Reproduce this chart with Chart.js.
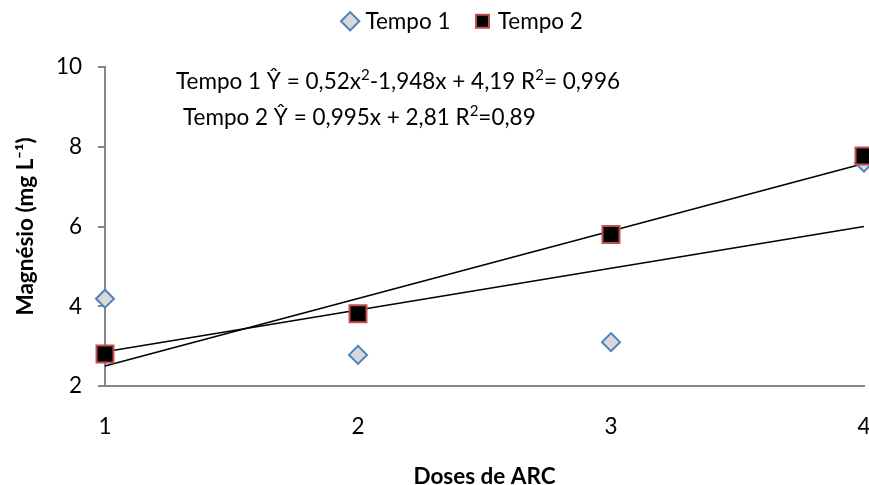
<!DOCTYPE html>
<html><head><meta charset="utf-8">
<script src="https://cdn.jsdelivr.net/npm/chart.js@4/dist/chart.umd.min.js"></script>
<style>html,body{margin:0;padding:0;background:#fff}#wrap{width:869px;height:485px}</style>
</head><body><div id="wrap"><canvas id="c" width="869" height="485"></canvas></div>
<script>
const doses = [1, 2, 3, 4];
const tempo1 = [4.19, 2.78, 3.1, 7.6];
const tempo2 = [2.8, 3.81, 5.8, 7.77];
const trendX = [1, 4];
const trendA = [2.5, 7.58];
const trendB = [2.86, 6.0];
const yTicks = [2, 4, 6, 8, 10];
const seriesNames = ['Tempo 1', 'Tempo 2'];
const eq1 = [['Tempo 1 Ŷ = 0,52x', 0], ['2', 1], ['-1,948x + 4,19 R', 0], ['2', 1], ['= 0,996', 0]];
const eq2 = [['Tempo 2 Ŷ = 0,995x + 2,81 R', 0], ['2', 1], ['=0,89', 0]];

const FONT = 'Lato';
const FS = 22.5;

const pts = (xs, ys) => xs.map((x, i) => ({x: x, y: ys[i]}));

const eqPlugin = {
  id: 'eq',
  beforeLayout(chart) {
    const lg = chart.legend;
    if (lg && !lg._patched) {
      const orig = lg.fit;
      lg.fit = function () { orig.call(this); this.height = 85; };
      const od = lg.draw;
      lg.draw = function (a) { this.ctx.save(); this.ctx.translate(30, 0); od.call(this, a); this.ctx.restore(); };
      lg._patched = true;
    }
  },
  afterDatasetsDraw(chart) {
    const ctx = chart.ctx;
    const drawLine = (segs, x, y) => {
      ctx.save();
      ctx.fillStyle = '#000';
      ctx.textBaseline = 'alphabetic';
      ctx.textAlign = 'left';
      segs.forEach(([t, sup]) => {
        ctx.font = (sup ? Math.round(FS * 0.65) : FS) + 'px ' + FONT;
        ctx.fillText(t, x, sup ? y - FS * 0.38 : y);
        x += ctx.measureText(t).width;
      });
      ctx.restore();
    };
    drawLine(eq1, 176, 89);
    drawLine(eq2, 183, 125);
  }
};

new Chart(document.getElementById('c'), {
  type: 'scatter',
  data: {
    datasets: [
      {label: seriesNames[0], data: pts(doses, tempo1), pointStyle: 'rectRot', pointRadius: 9, pointHoverRadius: 9,
       backgroundColor: '#d9d9d9', borderColor: '#4f81bd', borderWidth: 2, order: 2, clip: false},
      {label: seriesNames[1], data: pts(doses, tempo2), pointStyle: 'rect', pointRadius: 12, pointHoverRadius: 12,
       backgroundColor: '#000000', borderColor: '#c0504d', borderWidth: 2, order: 1, clip: false},
      {label: 'trendA', data: pts(trendX, trendA), type: 'line', showLine: true, pointRadius: 0,
       borderColor: '#000', borderWidth: 1.6, fill: false, order: 5, clip: false},
      {label: 'trendB', data: pts(trendX, trendB), type: 'line', showLine: true, pointRadius: 0,
       borderColor: '#000', borderWidth: 1.6, fill: false, order: 5, clip: false}
    ]
  },
  options: {
    responsive: false,
    animation: false,
    events: [],
    layout: {autoPadding: false, padding: {top: -18, left: 0, right: 0, bottom: 0}},
    plugins: {
      tooltip: {enabled: false},
      legend: {
        position: 'top',
        labels: {
          usePointStyle: true,
          boxHeight: 13,
          boxWidth: 8,
          padding: 28,
          color: '#000',
          font: {family: FONT, size: FS},
          filter: (item) => item.datasetIndex < 2,
          sort: (a, b) => a.datasetIndex - b.datasetIndex
        }
      }
    },
    scales: {
      x: {
        type: 'linear', min: 1, max: 4,
        ticks: {stepSize: 1, color: '#000', font: {family: FONT, size: FS}, padding: 0},
        grid: {display: true, drawOnChartArea: false, drawTicks: true, tickLength: 27, tickColor: 'rgba(0,0,0,0)'},
        border: {color: '#878787', width: 2},
        title: {display: true, text: 'Doses de ARC', color: '#000', font: {family: FONT, size: FS, weight: 'bold', lineHeight: 0.72}, padding: {top: 0, bottom: 0}},
        afterFit: (s) => { s.height = 99; s.paddingRight = 5; }
      },
      y: {
        min: 2, max: 10,
        afterBuildTicks: (s) => { s.ticks = yTicks.map(v => ({value: v})); },
        ticks: {color: '#000', font: {family: FONT, size: FS}, padding: 16},
        grid: {display: true, drawOnChartArea: false, drawTicks: true, tickLength: 7, color: '#878787', lineWidth: 2},
        border: {color: '#878787', width: 2},
        title: {display: true, text: 'Magnésio (mg L⁻¹)', color: '#000', font: {family: FONT, size: FS, weight: 'bold', lineHeight: 1.2}, padding: {top: 12, bottom: 0}},
        afterFit: (s) => { s.width = 105; }
      }
    }
  },
  plugins: [eqPlugin]
});
</script></body></html>
